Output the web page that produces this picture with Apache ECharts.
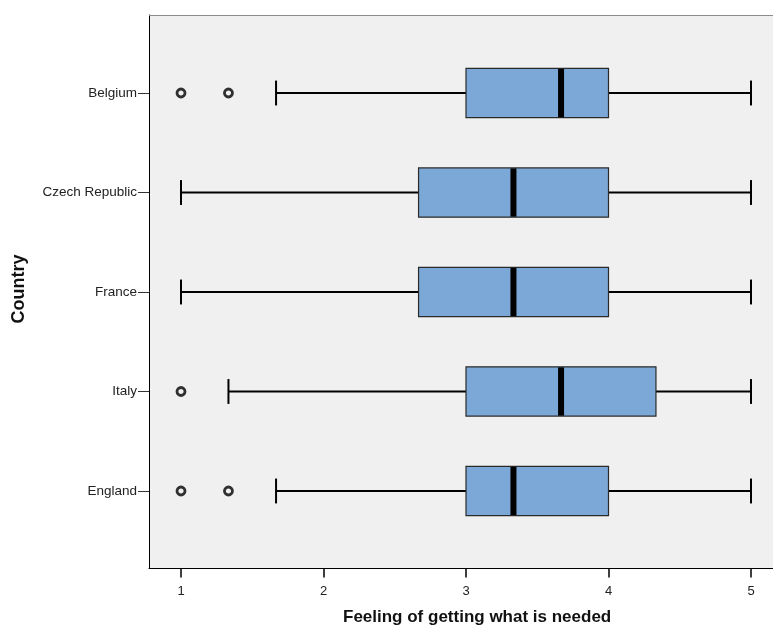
<!DOCTYPE html>
<html>
<head>
<meta charset="utf-8">
<script src="https://cdn.jsdelivr.net/npm/echarts@6/dist/echarts.min.js"></script>
<style>
  html, body { margin: 0; padding: 0; background: #fff; }
  #chart { width: 773px; height: 628px; }
</style>
</head>
<body>
<div id="chart"></div>
<script>
// Countries, top to bottom
const countries = ['Belgium', 'Czech Republic', 'France', 'Italy', 'England'];

// Five-number summaries per country: lower whisker, Q1, median, Q3, upper whisker
const whiskerLow = [1.667, 1.0, 1.0, 1.333, 1.667];
const quartile1  = [3.0, 2.667, 2.667, 3.0, 3.0];
const medians    = [3.667, 3.333, 3.333, 3.667, 3.333];
const quartile3  = [4.0, 4.0, 4.0, 4.333, 4.0];
const whiskerHigh = [5.0, 5.0, 5.0, 5.0, 5.0];

// Outliers: country index and value
const outlierCountry = [0, 0, 3, 4, 4];
const outlierValue   = [1.0, 1.333, 1.0, 1.0, 1.333];

// Tick labels on the value axis
const xTicks = [1, 2, 3, 4, 5];

const FONT = '"Liberation Sans", Arial, Helvetica, sans-serif';

const boxData = countries.map((c, i) =>
  [i, whiskerLow[i], quartile1[i], medians[i], quartile3[i], whiskerHigh[i]]);
const outlierData = outlierCountry.map((c, i) => [outlierValue[i], c]);

function renderBox(params, api) {
  const yi = api.value(0);
  const lo = api.value(1), q1 = api.value(2), med = api.value(3),
        q3 = api.value(4), hi = api.value(5);
  const unitH = api.size([0, 1])[1];
  const boxH = unitH * 0.495;
  const capH = unitH * 0.25;
  const pLo = api.coord([lo, yi]);
  const pQ1 = api.coord([q1, yi]);
  const pMed = api.coord([med, yi]);
  const pQ3 = api.coord([q3, yi]);
  const pHi = api.coord([hi, yi]);
  const cy = pLo[1];
  const line = { stroke: '#000', lineWidth: 2 };
  return {
    type: 'group',
    children: [
      { type: 'line', shape: { x1: pLo[0], y1: cy, x2: pQ1[0], y2: cy }, style: line },
      { type: 'line', shape: { x1: pQ3[0], y1: cy, x2: pHi[0], y2: cy }, style: line },
      { type: 'line', shape: { x1: pLo[0], y1: cy - capH / 2, x2: pLo[0], y2: cy + capH / 2 }, style: line },
      { type: 'line', shape: { x1: pHi[0], y1: cy - capH / 2, x2: pHi[0], y2: cy + capH / 2 }, style: line },
      { type: 'rect', shape: { x: pQ1[0], y: cy - boxH / 2, width: pQ3[0] - pQ1[0], height: boxH },
        style: { fill: '#7ba8d6', stroke: '#2a2a2a', lineWidth: 1.2 } },
      { type: 'rect', shape: { x: pMed[0] - 3, y: cy - boxH / 2 + 0.5, width: 6, height: boxH - 1 },
        style: { fill: '#000' } }
    ]
  };
}

const chart = echarts.init(document.getElementById('chart'), null, { renderer: 'canvas' });

chart.setOption({
  animation: false,
  backgroundColor: '#ffffff',
  grid: {
    left: 149, top: 15, width: 624, height: 553.5,
    show: true, backgroundColor: '#f0f0f0', borderWidth: 0
  },
  xAxis: {
    type: 'value',
    min: 0.7754, max: 5.1544,
    splitLine: { show: false },
    axisLine: { show: true, onZero: false, lineStyle: { color: '#000', width: 1 } },
    axisTick: { show: true, customValues: xTicks, length: 9, lineStyle: { color: '#000', width: 1.5 } },
    axisLabel: { customValues: xTicks, color: '#222', fontFamily: FONT, fontSize: 13, margin: 16 }
  },
  yAxis: {
    type: 'value',
    inverse: true,
    min: -0.784, max: 4.779,
    splitLine: { show: false },
    axisLine: { show: true, onZero: false, lineStyle: { color: '#000', width: 1 } },
    axisTick: { show: true, customValues: [0, 1, 2, 3, 4], length: 11, lineStyle: { color: '#333', width: 1 } },
    axisLabel: {
      customValues: [0, 1, 2, 3, 4],
      formatter: v => countries[Math.round(v)] || '',
      color: '#222', fontFamily: FONT, fontSize: 13.5, margin: 12
    }
  },
  graphic: [
    // top edge of the plotting area
    { type: 'line', shape: { x1: 149, y1: 15.5, x2: 773, y2: 15.5 },
      style: { stroke: '#8c8c8c', lineWidth: 1 }, z: 10 },
    { type: 'text', left: 343, top: 609,
      style: { text: 'Feeling of getting what is needed', font: 'bold 17px ' + FONT, fill: '#111' } },
    { type: 'text', x: 19.5, y: 289, rotation: Math.PI / 2, originX: 0, originY: 0,
      style: { text: 'Country', font: 'bold 18px ' + FONT, fill: '#111', align: 'center', verticalAlign: 'middle' } }
  ],
  series: [
    {
      type: 'custom',
      renderItem: renderBox,
      encode: { x: [1, 2, 3, 4, 5], y: 0 },
      data: boxData,
      z: 2
    },
    {
      type: 'scatter',
      data: outlierData,
      symbol: 'circle',
      symbolSize: 8,
      itemStyle: { color: '#f0f0f0', borderColor: '#000', borderWidth: 2.8 },
      z: 3
    }
  ]
});
</script>
</body>
</html>
